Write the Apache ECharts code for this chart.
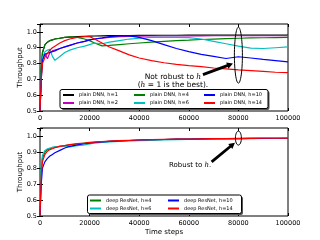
<!DOCTYPE html>
<html><head><meta charset="utf-8">
<script src="https://cdn.jsdelivr.net/npm/echarts@6/dist/echarts.min.js"></script>
<style>html,body{margin:0;padding:0;background:#fff}#c{width:320px;height:240px}</style>
</head><body><div id="c"></div>
<script>
const T = [0, 500, 1000, 2000, 3000, 4000, 5000, 6000, 8000, 10000, 12000, 15000, 18000, 20000, 22000, 25000, 28000, 32000, 36000, 40000, 45000, 50000, 55000, 60000, 65000, 70000, 75000, 80000, 85000, 90000, 95000, 100000];

const plainH1  = [0.5, 0.75, 0.87, 0.92, 0.935, 0.945, 0.95, 0.955, 0.96, 0.965, 0.967, 0.97, 0.972, 0.973, 0.974, 0.975, 0.976, 0.977, 0.977, 0.978, 0.978, 0.979, 0.979, 0.98, 0.98, 0.98, 0.98, 0.98, 0.98, 0.98, 0.98, 0.98];
const plainH2  = [0.5, 0.72, 0.83, 0.86, 0.83, 0.87, 0.88, 0.885, 0.895, 0.905, 0.915, 0.93, 0.94, 0.95, 0.955, 0.96, 0.965, 0.97, 0.972, 0.973, 0.974, 0.975, 0.975, 0.975, 0.975, 0.976, 0.976, 0.976, 0.976, 0.977, 0.977, 0.977];
const plainH4  = [0.5, 0.78, 0.87, 0.92, 0.935, 0.945, 0.95, 0.955, 0.96, 0.965, 0.968, 0.965, 0.955, 0.945, 0.93, 0.912, 0.915, 0.92, 0.925, 0.93, 0.935, 0.94, 0.945, 0.948, 0.952, 0.955, 0.958, 0.96, 0.962, 0.963, 0.964, 0.965];
const plainH6  = [0.5, 0.72, 0.84, 0.875, 0.885, 0.89, 0.845, 0.82, 0.845, 0.87, 0.885, 0.9, 0.91, 0.92, 0.93, 0.925, 0.935, 0.945, 0.955, 0.96, 0.965, 0.966, 0.965, 0.964, 0.955, 0.94, 0.925, 0.91, 0.898, 0.895, 0.9, 0.905];
const plainH10 = [0.5, 0.7, 0.82, 0.86, 0.865, 0.87, 0.875, 0.88, 0.895, 0.905, 0.915, 0.93, 0.94, 0.95, 0.955, 0.962, 0.97, 0.975, 0.975, 0.965, 0.945, 0.92, 0.895, 0.875, 0.858, 0.845, 0.832, 0.843, 0.835, 0.826, 0.818, 0.81];
const plainH14 = [0.5, 0.7, 0.8, 0.84, 0.865, 0.885, 0.9, 0.91, 0.93, 0.945, 0.955, 0.965, 0.97, 0.97, 0.955, 0.93, 0.905, 0.88, 0.855, 0.835, 0.818, 0.805, 0.795, 0.787, 0.78, 0.772, 0.766, 0.76, 0.755, 0.75, 0.745, 0.742];

const resH4  = [0.5, 0.8, 0.86, 0.9, 0.915, 0.92, 0.925, 0.93, 0.935, 0.94, 0.945, 0.95, 0.955, 0.958, 0.96, 0.963, 0.966, 0.97, 0.972, 0.975, 0.977, 0.978, 0.98, 0.981, 0.982, 0.983, 0.984, 0.984, 0.985, 0.985, 0.986, 0.986];
const resH6  = [0.5, 0.82, 0.88, 0.91, 0.92, 0.925, 0.93, 0.932, 0.935, 0.938, 0.932, 0.94, 0.945, 0.95, 0.955, 0.96, 0.963, 0.966, 0.969, 0.971, 0.973, 0.975, 0.977, 0.978, 0.98, 0.981, 0.982, 0.983, 0.984, 0.985, 0.985, 0.986];
const resH10 = [0.5, 0.7, 0.8, 0.84, 0.86, 0.875, 0.885, 0.895, 0.91, 0.925, 0.935, 0.945, 0.952, 0.956, 0.96, 0.963, 0.967, 0.97, 0.972, 0.975, 0.977, 0.978, 0.98, 0.981, 0.982, 0.983, 0.984, 0.984, 0.985, 0.985, 0.986, 0.986];
const resH14 = [0.5, 0.75, 0.84, 0.885, 0.905, 0.915, 0.92, 0.927, 0.935, 0.94, 0.946, 0.952, 0.956, 0.96, 0.962, 0.965, 0.968, 0.971, 0.973, 0.975, 0.977, 0.979, 0.98, 0.981, 0.982, 0.983, 0.984, 0.985, 0.985, 0.986, 0.986, 0.987];

const topNames = ['plain DNN, h=1', 'plain DNN, h=2', 'plain DNN, h=4', 'plain DNN, h=6', 'plain DNN, h=10', 'plain DNN, h=14'];
const botNames = ['deep ResNet, h=4', 'deep ResNet, h=6', 'deep ResNet, h=10', 'deep ResNet, h=14'];
const xLabel = 'Time steps';
const yLabel = 'Throughput';

const C = {k:'#000000', m:'#bf00bf', g:'#008000', c:'#00bfbf', b:'#0000ff', r:'#ff0000'};
const FONT = 'DejaVu Sans';

function pairs(vals){ return T.map((t,i)=>[t, vals[i]]); }
function line(name, vals, color, gi){
  return {type:'line', name, data:pairs(vals), xAxisIndex:gi*2, yAxisIndex:gi*2,
    showSymbol:false, symbol:'none', lineStyle:{color, width:1.2}, itemStyle:{color}, animation:false};
}
function xAx(gi, top, showLabel, name){
  return {type:'value', gridIndex:gi, position: top?'top':'bottom', min:0, max:100000, interval:20000,
    axisLine:{show:false}, splitLine:{show:false},
    axisTick:{show:true, inside:true, length:3, lineStyle:{color:'#000'}},
    axisLabel:{show:showLabel, fontSize:6.5, color:'#000', fontFamily:FONT, margin:4, formatter:v => String(v)},
    name: name||'', nameLocation:'middle', nameGap:13, nameMoveOverlap:false,
    nameTextStyle:{fontSize:7, color:'#000', fontFamily:FONT}};
}
function yAx(gi, right, showLabel, name){
  return {type:'value', gridIndex:gi, position: right?'right':'left', min:0.5, max:1.05, interval:0.1,
    axisLine:{show:false}, splitLine:{show:false},
    axisTick:{show:true, inside:true, length:3, lineStyle:{color:'#000'}},
    axisLabel:{show:showLabel, fontSize:6.5, color:'#000', fontFamily:FONT, margin:3,
      formatter:v => v > 1.001 ? '' : v.toFixed(1)},
    name: name||'', nameLocation:'middle', nameGap:16, nameMoveOverlap:false,
    nameTextStyle:{fontSize:7, color:'#000', fontFamily:FONT}};
}
function leg(names, left, top){
  return {orient:'vertical', left, top, data:names, icon:'rect', itemWidth:11, itemHeight:2, itemGap:1, z:60,
    padding:0, textStyle:{fontSize:5, lineHeight:7, color:'#000', fontFamily:FONT}, selectedMode:false};
}

const chart = echarts.init(document.getElementById('c'), null, {renderer:'canvas'});
chart.setOption({
  animation:false,
  grid:[
    {left:40, top:24, width:248, height:87, show:true, borderColor:'#000', borderWidth:1, backgroundColor:'transparent'},
    {left:40, top:128, width:248, height:88, show:true, borderColor:'#000', borderWidth:1, backgroundColor:'transparent'}
  ],
  xAxis:[xAx(0,false,true), xAx(0,true,false), xAx(1,false,true,xLabel), xAx(1,true,false)],
  yAxis:[yAx(0,false,true,yLabel), yAx(0,true,false), yAx(1,false,true,yLabel), yAx(1,true,false)],
  legend:[
    leg([topNames[0], topNames[1]], 63, 91.5),
    leg([topNames[2], topNames[3]], 134, 91.5),
    leg([topNames[4], topNames[5]], 204, 91.5),
    leg([botNames[0], botNames[1]], 90, 197),
    leg([botNames[2], botNames[3]], 168, 197)
  ],
  series:[
    line(topNames[0], plainH1, C.k, 0),
    line(topNames[1], plainH2, C.m, 0),
    line(topNames[2], plainH4, C.g, 0),
    line(topNames[3], plainH6, C.c, 0),
    line(topNames[4], plainH10, C.b, 0),
    line(topNames[5], plainH14, C.r, 0),
    line(botNames[0], resH4, C.g, 1),
    line(botNames[1], resH6, C.c, 1),
    line(botNames[2], resH10, C.b, 1),
    line(botNames[3], resH14, C.r, 1)
  ]
});

function px(gi, p){ return chart.convertToPixel({gridIndex:gi}, p); }
function arrow(a, b, w, hw, hl){
  const dx=b[0]-a[0], dy=b[1]-a[1], L=Math.hypot(dx,dy), ux=dx/L, uy=dy/L, nx=-uy, ny=ux;
  const bx=b[0]-ux*hl, by=b[1]-uy*hl;
  return {type:'polygon', shape:{points:[
    [a[0]+nx*w/2, a[1]+ny*w/2], [bx+nx*w/2, by+ny*w/2], [bx+nx*hw/2, by+ny*hw/2], b,
    [bx-nx*hw/2, by-ny*hw/2], [bx-nx*w/2, by-ny*w/2], [a[0]-nx*w/2, a[1]-ny*w/2]]},
    style:{fill:'#000'}, z:100};
}
function rich(sz){ return {n:{fontSize:sz, fontFamily:FONT, fill:'#000'}, i:{fontSize:sz, fontFamily:'DejaVu Serif', fontStyle:'italic', fill:'#000'}}; }
function drawAnn(){
  const e1 = px(0,[80000, 0.853]);
  const e2 = px(1,[80000, 0.987]);
  const g = [
    {type:'ellipse', shape:{cx:e1[0], cy:e1[1], rx:4, ry:28}, style:{fill:'none', stroke:'#000', lineWidth:1}, z:100},
    {type:'ellipse', shape:{cx:e2[0], cy:e2[1], rx:3, ry:7}, style:{fill:'none', stroke:'#000', lineWidth:1}, z:100},
    arrow(px(0,[65700,0.73]), px(0,[77800,0.80]), 2.8, 6.5, 6),
    arrow(px(1,[69200,0.838]), px(1,[78600,0.958]), 2.8, 6.5, 6)
  ];
  const t1 = px(0,[53600, 0.69]);
  g.push({type:'text', x:t1[0], y:t1[1], style:{text:'{n|Not robust to }{i|h}\n{n|(}{i|h}{n| = 1 is the best).}', rich:rich(7.5), textAlign:'center', textVerticalAlign:'middle', lineHeight:8.5, fill:'#000'}, z:100});
  const t2 = px(1,[52000, 0.82]);
  g.push({type:'text', x:t2[0], y:t2[1], style:{text:'{n|Robust to }{i|h}{n|.}', rich:rich(7), textAlign:'left', textVerticalAlign:'middle', fill:'#000'}, z:100});
  const boxes = [[60,89.5,208,19],[87.5,195,154,18.5]];
  boxes.forEach(b=>{
    g.push({type:'rect', shape:{x:b[0]+1.5, y:b[1]+1.5, width:b[2], height:b[3], r:2}, style:{fill:'#555'}, z:40});
    g.push({type:'rect', shape:{x:b[0], y:b[1], width:b[2], height:b[3], r:2}, style:{fill:'#fff', stroke:'#000', lineWidth:1}, z:41});
  });
  chart.setOption({graphic:{elements:g}});
}
drawAnn();
</script></body></html>
